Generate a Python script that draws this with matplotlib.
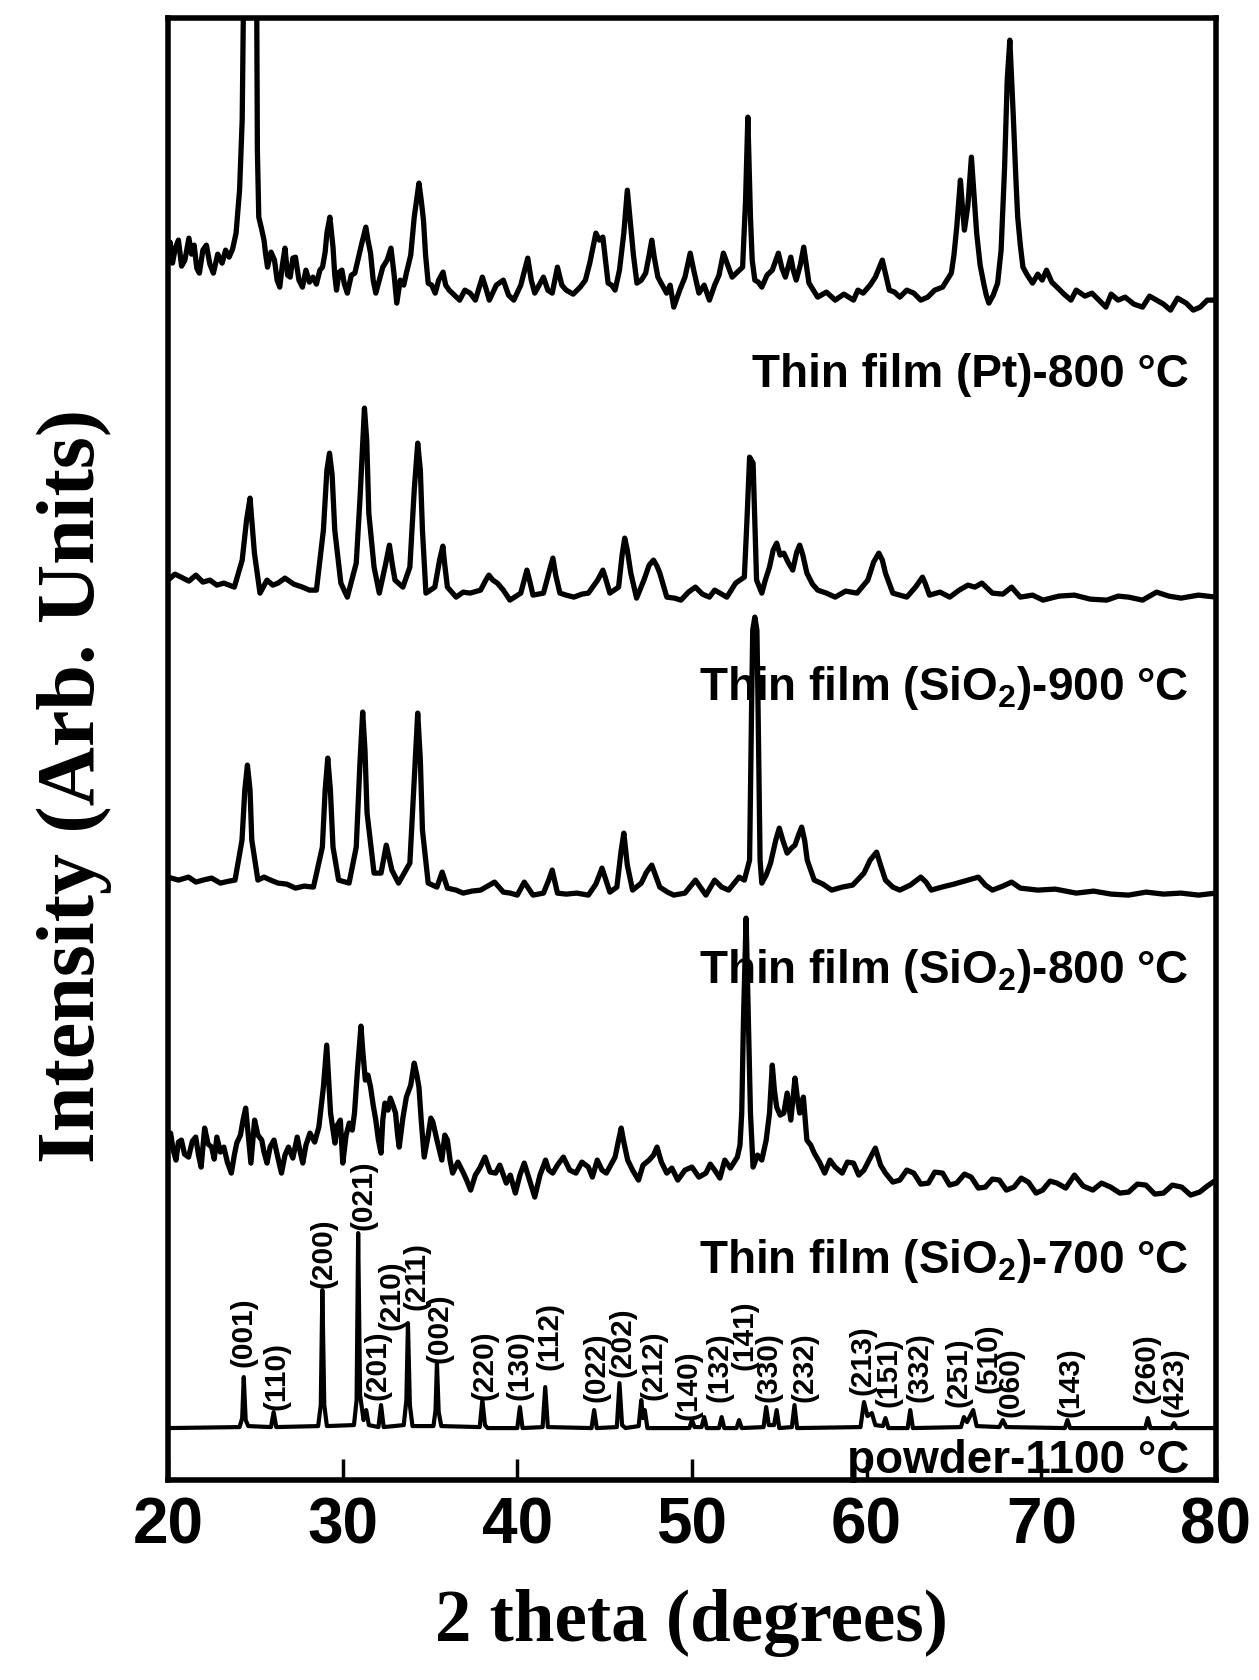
import matplotlib.pyplot as plt

# digitised XRD patterns: (2 theta, intensity in arb. units incl. stacking offset)
pt800 = [(20.0, 1225), (20.12, 1238), (20.26, 1217), (20.42, 1232), (20.6, 1240), (20.78, 1214), (20.97, 1220),
         (21.2, 1242), (21.35, 1226), (21.5, 1235), (21.65, 1212), (21.8, 1207), (22.0, 1230), (22.2, 1235),
         (22.4, 1216), (22.6, 1207), (22.85, 1226), (23.1, 1217), (23.3, 1230), (23.5, 1223), (23.7, 1231),
         (23.9, 1247), (24.1, 1290), (24.25, 1360), (24.4, 1600), (24.75, 2200), (25.05, 1600), (25.12, 1330),
         (25.2, 1263), (25.35, 1252), (25.5, 1240), (25.6, 1225), (25.7, 1213), (25.9, 1228), (26.1, 1220),
         (26.25, 1200), (26.4, 1193), (26.55, 1215), (26.7, 1232), (26.85, 1205), (27.0, 1203), (27.15, 1222),
         (27.3, 1223), (27.5, 1200), (27.7, 1193), (27.9, 1210), (28.1, 1198), (28.3, 1203), (28.5, 1196),
         (28.7, 1210), (28.85, 1213), (29.0, 1228), (29.1, 1247), (29.27, 1263), (29.45, 1233), (29.55, 1205),
         (29.65, 1190), (29.8, 1208), (29.96, 1210), (30.1, 1196), (30.27, 1187), (30.5, 1205), (30.7, 1207),
         (30.9, 1222), (31.1, 1237), (31.33, 1253), (31.45, 1240), (31.6, 1227), (31.75, 1200), (31.9, 1187),
         (32.1, 1200), (32.3, 1213), (32.55, 1220), (32.77, 1232), (32.95, 1205), (33.1, 1177), (33.3, 1200),
         (33.5, 1195), (33.65, 1207), (33.9, 1225), (34.1, 1263), (34.37, 1297), (34.5, 1280), (34.63, 1260),
         (34.75, 1225), (34.9, 1197), (35.1, 1195), (35.3, 1187), (35.5, 1200), (35.75, 1208), (35.9, 1195),
         (36.1, 1190), (36.4, 1185), (36.7, 1180), (37.0, 1190), (37.3, 1187), (37.6, 1180), (38.0, 1203),
         (38.2, 1192), (38.4, 1180), (38.8, 1195), (39.2, 1200), (39.5, 1185), (39.8, 1180), (40.2, 1195),
         (40.6, 1222), (40.8, 1200), (41.0, 1187), (41.25, 1195), (41.5, 1203), (41.75, 1190), (42.0, 1187),
         (42.3, 1213), (42.55, 1195), (42.8, 1190), (43.2, 1186), (43.6, 1193), (43.9, 1200), (44.15, 1217),
         (44.5, 1247), (44.7, 1240), (44.9, 1243), (45.05, 1220), (45.2, 1197), (45.4, 1195), (45.6, 1190),
         (45.85, 1210), (46.1, 1247), (46.3, 1290), (46.5, 1253), (46.65, 1225), (46.85, 1197), (47.1, 1200),
         (47.35, 1207), (47.55, 1225), (47.7, 1240), (47.85, 1222), (48.05, 1203), (48.3, 1195), (48.55, 1187),
         (48.75, 1195), (48.96, 1173), (49.3, 1190), (49.6, 1203), (49.75, 1215), (49.9, 1227), (50.1, 1210),
         (50.4, 1187), (50.7, 1195), (51.0, 1180), (51.3, 1195), (51.55, 1205), (51.8, 1227), (52.05, 1215),
         (52.3, 1203), (52.6, 1208), (52.9, 1213), (53.07, 1280), (53.2, 1363), (53.35, 1263), (53.45, 1220),
         (53.6, 1200), (53.8, 1198), (54.0, 1193), (54.3, 1205), (54.6, 1210), (54.95, 1227), (55.15, 1212),
         (55.35, 1203), (55.66, 1223), (55.8, 1210), (55.97, 1200), (56.2, 1215), (56.4, 1233), (56.55, 1215),
         (56.7, 1197), (56.95, 1190), (57.2, 1183), (57.7, 1188), (58.2, 1180), (58.7, 1186), (59.25, 1180),
         (59.5, 1190), (59.8, 1187), (60.2, 1195), (60.5, 1203), (60.9, 1220), (61.1, 1205), (61.3, 1190),
         (61.6, 1188), (61.9, 1183), (62.3, 1190), (62.7, 1187), (63.1, 1180), (63.5, 1183), (63.9, 1190),
         (64.35, 1193), (64.6, 1200), (64.85, 1207), (65.0, 1225), (65.16, 1253), (65.37, 1300), (65.5, 1270),
         (65.6, 1250), (65.8, 1275), (66.0, 1323), (66.15, 1285), (66.3, 1247), (66.5, 1215), (66.7, 1197),
         (66.85, 1185), (67.0, 1177), (67.25, 1185), (67.5, 1197), (67.7, 1230), (67.9, 1313), (68.05, 1400),
         (68.2, 1440), (68.4, 1363), (68.55, 1300), (68.65, 1263), (68.8, 1235), (68.95, 1213), (69.2, 1205),
         (69.5, 1197), (69.8, 1206), (70.05, 1200), (70.3, 1210), (70.6, 1198), (70.9, 1193), (71.3, 1186),
         (71.7, 1180), (72.0, 1190), (72.5, 1184), (72.9, 1187), (73.3, 1180), (73.7, 1173), (74.0, 1186),
         (74.4, 1180), (74.8, 1183), (75.3, 1176), (75.8, 1173), (76.2, 1184), (76.6, 1180), (77.0, 1176),
         (77.4, 1170), (77.8, 1182), (78.3, 1177), (78.7, 1170), (79.1, 1173), (79.5, 1180), (80.0, 1180)]

sio2_900 = [(20.0, 900), (20.4, 906), (20.75, 903), (21.2, 899), (21.6, 905), (22.0, 898), (22.4, 900),
            (22.8, 895), (23.2, 897), (23.8, 893), (24.25, 920), (24.5, 960), (24.7, 982), (24.95, 927),
            (25.27, 887), (25.67, 900), (26.0, 895), (26.3, 897), (26.7, 902), (27.2, 896), (27.7, 893),
            (28.1, 890), (28.5, 890), (28.9, 950), (29.1, 1010), (29.25, 1027), (29.4, 1005), (29.55, 950),
            (29.9, 897), (30.27, 883), (30.78, 917), (31.0, 983), (31.25, 1072), (31.38, 1040), (31.5, 967),
            (31.8, 913), (32.1, 887), (32.45, 915), (32.68, 935), (32.85, 915), (33.0, 900), (33.45, 893),
            (33.85, 913), (34.1, 990), (34.3, 1037), (34.45, 1010), (34.57, 950), (34.77, 887), (35.28, 893),
            (35.55, 920), (35.74, 934), (35.85, 915), (36.0, 893), (36.5, 883), (36.9, 888), (37.3, 887),
            (37.9, 890), (38.2, 900), (38.37, 905), (38.6, 900), (38.86, 897), (39.2, 890), (39.58, 880),
            (40.2, 887), (40.4, 900), (40.55, 910), (40.7, 900), (40.9, 885), (41.5, 887), (41.85, 910),
            (42.04, 922), (42.2, 905), (42.44, 887), (42.8, 885), (43.24, 883), (43.7, 886), (44.07, 887),
            (44.6, 900), (44.9, 910), (45.05, 902), (45.3, 887), (45.8, 893), (46.0, 925), (46.15, 942),
            (46.3, 930), (46.5, 907), (46.83, 882), (47.25, 900), (47.55, 915), (47.8, 920), (48.0, 914),
            (48.16, 907), (48.56, 883), (49.0, 882), (49.37, 880), (49.8, 888), (50.2, 893), (50.6, 886),
            (51.0, 883), (51.3, 890), (52.0, 883), (52.5, 897), (53.0, 903), (53.15, 960), (53.3, 1023),
            (53.5, 1017), (53.6, 960), (53.7, 900), (54.0, 887), (54.2, 900), (54.44, 913), (54.65, 930),
            (54.85, 937), (55.05, 925), (55.26, 927), (55.5, 918), (55.77, 910), (56.0, 928), (56.17, 935),
            (56.35, 925), (56.58, 907), (56.9, 896), (57.2, 890), (57.7, 887), (58.2, 883), (58.8, 889),
            (59.45, 887), (60.07, 900), (60.4, 918), (60.7, 927), (60.9, 920), (61.08, 907), (61.5, 887),
            (62.3, 883), (62.8, 893), (63.2, 903), (63.35, 897), (63.6, 885), (64.2, 888), (64.76, 883),
            (65.3, 890), (65.8, 895), (66.2, 893), (66.6, 897), (67.2, 887), (67.8, 886), (68.3, 893),
            (68.8, 883), (69.5, 885), (70.1, 880), (71.0, 884), (71.9, 885), (72.8, 881), (73.75, 880),
            (74.4, 884), (75.0, 883), (75.8, 880), (76.6, 888), (77.3, 884), (78.0, 882), (79.0, 885), (80.0, 883)]

sio2_800 = [(20.0, 603), (20.6, 600), (21.18, 603), (21.6, 598), (22.0, 600), (22.5, 602), (23.0, 597),
            (23.5, 599), (23.84, 600), (24.24, 640), (24.4, 690), (24.55, 715), (24.7, 690), (24.8, 640),
            (25.15, 600), (25.5, 603), (25.88, 600), (26.3, 597), (26.8, 596), (27.3, 592), (27.8, 594),
            (28.33, 593), (28.84, 633), (29.0, 690), (29.15, 722), (29.3, 690), (29.45, 633), (29.77, 600),
            (30.37, 597), (30.78, 633), (31.0, 720), (31.15, 768), (31.28, 730), (31.4, 667), (31.8, 607),
            (32.2, 607), (32.5, 635), (32.82, 610), (33.2, 597), (33.85, 617), (34.1, 700), (34.3, 767),
            (34.45, 720), (34.57, 650), (34.9, 597), (35.4, 593), (35.7, 608), (36.0, 592), (36.5, 590),
            (36.9, 587), (37.4, 589), (37.9, 590), (38.3, 594), (38.7, 598), (39.2, 588), (39.6, 587),
            (40.0, 585), (40.4, 598), (40.9, 585), (41.5, 587), (41.8, 600), (42.0, 610), (42.3, 587),
            (42.8, 586), (43.4, 587), (44.07, 585), (44.5, 596), (44.85, 612), (45.3, 588), (45.7, 593),
            (45.95, 630), (46.1, 647), (46.3, 615), (46.6, 590), (47.1, 597), (47.4, 608), (47.7, 615),
            (48.16, 593), (48.6, 588), (48.96, 585), (49.6, 587), (50.2, 600), (50.8, 585), (51.3, 600),
            (51.7, 593), (52.1, 590), (52.7, 603), (53.0, 600), (53.3, 620), (53.42, 780), (53.48, 850),
            (53.6, 863), (53.72, 850), (53.78, 780), (53.9, 620), (54.0, 597), (54.25, 605), (54.5, 617),
            (54.8, 640), (55.0, 652), (55.2, 640), (55.45, 627), (55.7, 632), (55.9, 635), (56.1, 645),
            (56.28, 653), (56.45, 640), (56.6, 620), (57.0, 600), (57.5, 596), (58.0, 590), (58.6, 593),
            (59.2, 595), (59.85, 607), (60.2, 620), (60.57, 628), (60.8, 615), (61.08, 600), (61.5, 593),
            (61.9, 590), (62.5, 595), (63.1, 603), (63.4, 598), (63.7, 590), (64.3, 593), (65.0, 596),
            (65.8, 600), (66.4, 603), (66.8, 595), (67.2, 590), (67.8, 594), (68.3, 598), (68.8, 592),
            (69.8, 590), (70.8, 591), (72.0, 587), (73.0, 589), (74.0, 586), (75.0, 585), (76.0, 588),
            (77.0, 586), (78.0, 587), (79.0, 585), (80.0, 587)]

sio2_700 = [(20.0, 333), (20.15, 347), (20.3, 330), (20.46, 320), (20.6, 338), (20.77, 340), (20.95, 326),
            (21.18, 323), (21.4, 339), (21.59, 343), (21.75, 325), (21.9, 313), (22.1, 352), (22.3, 336),
            (22.5, 333), (22.65, 321), (22.8, 343), (23.0, 328), (23.2, 333), (23.4, 318), (23.63, 307),
            (23.8, 325), (23.94, 337), (24.15, 345), (24.3, 360), (24.45, 372), (24.6, 345), (24.75, 317),
            (24.96, 360), (25.15, 345), (25.37, 340), (25.5, 328), (25.67, 317), (25.85, 333), (26.07, 340),
            (26.3, 322), (26.5, 307), (26.7, 325), (26.9, 333), (27.15, 322), (27.4, 343), (27.55, 330),
            (27.72, 317), (27.9, 335), (28.13, 347), (28.4, 338), (28.64, 353), (28.9, 393), (29.09, 435),
            (29.2, 400), (29.31, 367), (29.45, 350), (29.56, 337), (29.7, 355), (29.87, 360), (30.01, 317),
            (30.2, 345), (30.38, 357), (30.55, 350), (30.68, 367), (30.85, 410), (31.05, 454), (31.15, 430),
            (31.3, 400), (31.45, 405), (31.6, 393), (31.75, 375), (31.9, 360), (32.05, 340), (32.2, 327),
            (32.3, 360), (32.42, 377), (32.6, 370), (32.73, 382), (32.9, 374), (33.03, 367), (33.15, 345),
            (33.24, 333), (33.45, 362), (33.65, 383), (33.9, 395), (34.1, 417), (34.25, 405), (34.37, 393),
            (34.5, 360), (34.67, 323), (34.9, 345), (35.05, 362), (35.17, 358), (35.4, 340), (35.68, 320),
            (35.85, 345), (36.0, 340), (36.15, 320), (36.3, 307), (36.6, 318), (36.92, 307), (37.1, 300),
            (37.33, 290), (37.6, 305), (37.85, 312), (38.15, 323), (38.45, 308), (38.76, 307), (39.0, 315),
            (39.37, 297), (39.6, 305), (39.89, 287), (40.15, 305), (40.4, 317), (40.7, 300), (41.0, 283),
            (41.3, 305), (41.62, 320), (41.8, 310), (42.03, 307), (42.3, 315), (42.64, 323), (43.0, 310),
            (43.36, 307), (43.7, 318), (44.07, 313), (44.3, 303), (44.58, 320), (44.85, 310), (45.1, 307),
            (45.35, 315), (45.6, 323), (45.8, 340), (45.95, 352), (46.1, 338), (46.32, 320), (46.6, 310),
            (46.94, 300), (47.2, 315), (47.55, 320), (47.8, 325), (48.0, 333), (48.25, 318), (48.56, 307),
            (48.85, 312), (49.19, 300), (49.6, 310), (50.0, 313), (50.4, 303), (50.8, 307), (51.05, 316),
            (51.3, 310), (51.6, 302), (51.88, 320), (52.2, 312), (52.6, 323), (52.75, 335), (52.85, 367),
            (52.95, 460), (53.1, 562), (53.22, 470), (53.35, 367), (53.5, 313), (53.75, 325), (54.0, 320),
            (54.25, 340), (54.44, 367), (54.6, 415), (54.72, 390), (54.85, 373), (55.05, 365), (55.26, 367),
            (55.45, 387), (55.66, 360), (55.9, 402), (56.05, 380), (56.17, 367), (56.38, 383), (56.58, 340),
            (56.8, 335), (57.0, 327), (57.3, 318), (57.6, 307), (57.9, 320), (58.2, 313), (58.6, 307),
            (58.9, 318), (59.25, 317), (59.55, 305), (59.85, 310), (60.2, 322), (60.5, 332), (60.8, 315),
            (61.08, 307), (61.5, 298), (61.9, 300), (62.3, 310), (62.7, 307), (63.1, 296), (63.54, 297),
            (63.9, 308), (64.35, 307), (64.75, 295), (65.16, 297), (65.6, 306), (65.99, 303), (66.4, 292),
            (66.8, 293), (67.2, 301), (67.6, 300), (68.0, 290), (68.44, 293), (68.85, 302), (69.26, 298),
            (69.7, 287), (70.08, 290), (70.5, 299), (70.9, 297), (71.4, 292), (71.9, 305), (72.4, 294),
            (72.95, 290), (73.45, 297), (73.97, 293), (74.5, 287), (75.0, 288), (75.5, 296), (75.99, 295),
            (76.5, 286), (77.0, 287), (77.5, 295), (78.04, 293), (78.55, 285), (79.07, 288), (79.5, 294),
            (80.0, 300)]

powder = [(20.0, 52), (24.1, 53), (24.25, 62), (24.34, 103), (24.45, 60), (24.6, 54),
          (25.9, 53), (26.05, 68), (26.2, 53),
          (28.6, 54), (28.75, 75), (28.84, 190), (28.95, 75), (29.1, 54),
          (30.65, 55), (30.8, 80), (30.89, 247), (31.0, 85), (31.2, 60), (31.35, 70), (31.5, 55),
          (32.05, 53), (32.2, 75), (32.35, 53),
          (33.5, 55), (33.65, 80), (33.74, 157), (33.85, 75), (34.0, 54),
          (35.2, 54), (35.32, 70), (35.4, 117), (35.5, 68), (35.65, 54),
          (37.85, 53), (38.0, 80), (38.15, 55), (38.3, 52),
          (40.0, 52), (40.15, 73), (40.3, 52),
          (41.45, 53), (41.6, 93), (41.75, 53),
          (44.25, 52), (44.4, 70), (44.55, 52),
          (45.7, 53), (45.85, 97), (46.0, 55), (46.2, 52),
          (46.95, 54), (47.1, 80), (47.2, 62), (47.3, 70), (47.45, 52),
          (49.85, 52), (50.0, 60), (50.15, 53), (50.55, 53), (50.7, 63), (50.85, 52),
          (51.55, 52), (51.7, 63), (51.85, 52), (52.55, 52), (52.7, 60), (52.85, 52),
          (54.1, 53), (54.25, 73), (54.4, 55), (54.7, 55), (54.85, 70), (55.0, 52),
          (55.72, 53), (55.87, 75), (56.02, 52),
          (59.65, 53), (59.85, 78), (60.05, 64), (60.3, 67), (60.5, 55),
          (60.93, 54), (61.08, 62), (61.25, 52),
          (62.35, 52), (62.5, 70), (62.65, 52),
          (65.4, 53), (65.57, 63), (65.75, 58), (66.1, 70), (66.3, 54),
          (67.6, 53), (67.8, 60), (68.0, 53),
          (71.35, 52), (71.5, 60), (71.65, 52),
          (75.95, 52), (76.1, 62), (76.25, 52),
          (77.45, 52), (77.6, 57), (77.75, 52), (80.0, 52)]

# reflection labels of the powder pattern: (hkl, 2 theta, height of label foot)
hkl = [('(001)', 24.34, 113), ('(110)', 26.2, 70), ('(200)', 28.9, 192), ('(021)', 31.2, 250),
       ('(201)', 32.0, 80), ('(210)', 32.8, 150), ('(211)', 34.25, 170), ('(002)', 35.55, 117),
       ('(220)', 38.1, 80), ('(130)', 40.1, 80), ('(112)', 41.85, 110), ('(022)', 44.55, 78),
       ('(202)', 46.05, 103), ('(212)', 47.8, 80), ('(140)', 49.8, 60), ('(132)', 51.6, 78),
       ('(141)', 53.0, 110), ('(330)', 54.4, 78), ('(232)', 56.45, 78), ('(213)', 59.75, 85),
       ('(151)', 61.25, 73), ('(332)', 63.0, 78), ('(251)', 65.25, 73), ('(510)', 67.0, 87),
       ('(060)', 68.25, 63), ('(143)', 71.7, 63), ('(260)', 76.0, 77), ('(423)', 77.65, 63)]

sample_names = ['Thin film (Pt)-800 °C', 'Thin film (SiO$_\\mathrm{2}$)-900 °C',
                'Thin film (SiO$_\\mathrm{2}$)-800 °C', 'Thin film (SiO$_\\mathrm{2}$)-700 °C',
                'powder-1100 °C']
name_y = [1093, 780, 497, 207, 7]

plt.rcParams['mathtext.fontset'] = 'custom'
plt.rcParams['mathtext.rm'] = 'Liberation Sans:bold'
plt.rcParams['mathtext.bf'] = 'Liberation Sans:bold'
plt.rcParams['font.family'] = ['Liberation Sans', 'DejaVu Sans']
plt.rcParams['font.weight'] = 'bold'

fig = plt.figure(figsize=(12.59, 16.8), dpi=100)
ax = fig.add_axes([0.1334, 0.119, 0.8324, 0.8702])

for pattern in [pt800, sio2_900, sio2_800, sio2_700]:
    tth, inten = zip(*pattern)
    ax.plot(tth, inten, color='black', lw=3.8, solid_joinstyle='round')
tth, inten = zip(*powder)
ax.plot(tth, inten, color='black', lw=3.0, solid_joinstyle='round')

for lab, xpos, ypos in hkl:
    ax.text(xpos, ypos, lab, rotation=90, ha='center', va='bottom',
            fontsize=21.5, fontweight='bold')

for name, ypos in zip(sample_names, name_y):
    ax.text(78.45, ypos, name, ha='right', va='baseline', fontsize=33, fontweight='bold')

ax.set_xlim(20, 80)
ax.set_ylim(0, 1462)
ax.set_xticks([20, 30, 40, 50, 60, 70, 80])
ax.set_yticks([])
ax.tick_params(axis='x', direction='in', length=15, width=2.5, pad=12, labelsize=46)
for lbl in ax.get_xticklabels():
    lbl.set_fontweight('bold')
for sp in ax.spines.values():
    sp.set_linewidth(4)

ax.set_xlabel('2 theta (degrees)', fontfamily='Liberation Serif', fontweight='bold', fontsize=52.5)
ax.xaxis.set_label_coords(0.5, -0.098)
ax.xaxis.label.set_va('center')
ax.set_ylabel('Intensity (Arb. Units)', fontfamily='Liberation Serif', fontweight='bold', fontsize=59)
ax.yaxis.set_label_coords(-0.089, 0.475)
ax.yaxis.label.set_va('center')

fig.savefig('out.png', dpi=100)
